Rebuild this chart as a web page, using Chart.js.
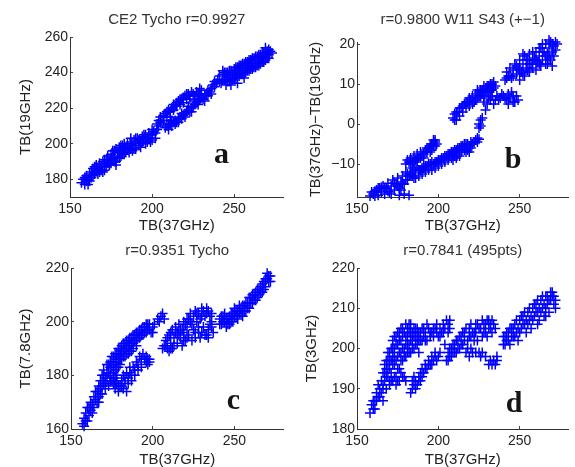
<!DOCTYPE html>
<html>
<head>
<meta charset="utf-8">
<script src="https://cdn.jsdelivr.net/npm/chart.js@4.4.1/dist/chart.umd.min.js"></script>
<style>
  html, body { margin: 0; padding: 0; background: #fff; overflow: hidden; }
  body { width: 575px; height: 467px; position: relative; }
  canvas { position: absolute; }
</style>
</head>
<body>
<canvas id="panelA" width="290" height="240" style="left:0px;top:0px"></canvas>
<canvas id="panelB" width="287" height="240" style="left:288px;top:0px"></canvas>
<canvas id="panelC" width="290" height="240" style="left:0px;top:232px"></canvas>
<canvas id="panelD" width="287" height="240" style="left:288px;top:232px"></canvas>
<script>
// TB(37GHz) vs TB(19GHz)
const tbA = [
  [157,178],[158,180],[159,177],[160,179],[160,182],[161,180],[162,183],[163,181],[163,184],[164,186],
  [165,183],[166,185],[166,188],[167,186],[168,184],[168,189],[169,187],[170,190],[170,184],[171,188],
  [172,191],[172,187],[173,193],[174,190],[174,188],[175,194],[175,189],[176,191],[176,196],[177,193],
  [178,190],[178,197],[178,188],[179,195],[180,192],[180,198],[181,196],[182,194],[182,199],[183,197],
  [183,200],[184,195],[185,200],[186,198],[186,195],[187,201],[188,199],[188,196],[189,197],[189,202],
  [190,200],[191,203],[192,199],[193,201],[194,204],[195,202],[196,200],[196,205],[197,203],[198,206],
  [199,203],[200,205],[201,207],[199,201],[202,203],
  [159,181],[161,177],[162,179],[164,182],[165,187],[167,183],[169,185],[171,185],[171,191],[173,189],
  [175,192],[177,190],[177,196],[179,192],[181,193],[181,199],[183,194],[184,198],[185,197],[187,197],
  [187,203],[190,197],[190,203],[192,202],[193,198],[194,201],[195,205],[197,201],[198,203],[200,202],
  [200,208],[202,206],[203,208],[204,210],
  [203,211],[204,213],[205,215],[206,213],[207,216],[208,217],[209,215],[210,219],[211,218],[212,220],
  [213,222],[214,221],[215,223],[216,224],[217,222],[218,225],[219,226],[220,227],[221,225],[222,228],
  [223,227],[224,229],[225,228],[226,227],[205,212],[207,213],[209,218],[211,215],[213,219],[215,221],
  [217,225],[219,223],[221,228],[223,225],
  [208,209],[209,210],[210,208],[211,211],[212,210],[213,212],[214,213],[215,212],[216,214],[217,215],
  [218,214],[219,216],[220,217],[221,218],[222,219],[223,218],[224,220],[225,221],[226,222],[227,223],
  [228,224],[229,225],[230,226],[231,225],[232,227],[233,228],[234,230],[235,229],[236,231],[237,233],
  [238,232],[227,229],[228,228],[229,231],[230,230],[210,211],[212,213],[214,211],[216,212],[218,217],
  [220,215],[222,221],[224,218],[226,224],[228,222],[230,228],[232,224],[234,227],[236,228],[238,235],
  [239,234],
  [240,236],[241,238],[242,234],[243,239],[244,236],[244,240],[245,237],[245,233],[246,235],[246,240],
  [247,238],[248,236],[248,233],[248,241],[249,239],[250,237],[250,242],[251,240],[252,238],[252,234],
  [252,243],[253,241],[254,239],[254,244],[255,242],[256,240],[256,237],[256,245],[257,243],[258,241],
  [258,246],[259,244],[260,242],[260,247],[261,245],[262,243],[262,248],[263,246],[264,244],[264,249],
  [265,247],[266,245],[266,250],[267,248],[268,246],[268,251],[269,249],[270,252],[270,248],[271,250],
  [272,252],[269,254],[241,235],[243,236],[245,240],[247,235],[249,236],[251,237],[253,238],[255,239],
  [257,240],[259,241],[261,242],[263,243],[265,244],[267,246],[269,247],[271,248],[253,244],[257,246],
  [261,248],[265,250],[243,241],[247,241],[251,243],[255,245],[259,247],[263,249],[267,251],[271,253],
  [273,251]
];

// TB(37GHz) vs TB(37GHz)-TB(19GHz)
const tbB = [
  [158,-18],[160,-17.5],[161,-18],[162,-16.5],[163,-17.8],[164,-16],[165,-17],[166,-15.5],[167,-17.5],[168,-16],
  [169,-14.8],[170,-17],[171,-15.5],[172,-14],[173,-16.5],[174,-15],[175,-13.5],[176,-16],[176,-17.8],[177,-14.5],
  [178,-13],[179,-15],[180,-12],[181,-14],[182,-17.8],[183,-12.5],[184,-11],[185,-13.5],[186,-12],[187,-10.5],
  [188,-13],[189,-11.5],[190,-12.5],[191,-11],[192,-12],[193,-10.5],[194,-11.5],[195,-10],[196,-11.5],[197,-10],
  [198,-11],[199,-9.5],[200,-10.5],[201,-9],[202,-10],[203,-8.5],[204,-9.5],[205,-8],[206,-9],[207,-7.5],
  [208,-8.5],[209,-7],[210,-8],[211,-6.5],[212,-7.5],[213,-6],[214,-7],[215,-5.5],[216,-6.5],[217,-5],
  [218,-6.5],[219,-5.5],[220,-6],[221,-5],[222,-4.5],[223,-4],[224,-4.5],[225,-3.8],
  [159,-17],[161,-16.8],[163,-16],[165,-15.8],[167,-16.2],[169,-16.8],[171,-17.5],[173,-14.8],[175,-15.5],[177,-16.5],
  [178,-15],[179,-17.5],[180,-14],[181,-12.5],[182,-13],[184,-13],[185,-11.5],[186,-13.5],[188,-11.5],[190,-11],
  [192,-10.5],[194,-10],[196,-9.5],[198,-9.5],[200,-9],[202,-8.5],[204,-8],[206,-7.5],[208,-7],[210,-6.5],
  [212,-6],[214,-5.5],[216,-5],[218,-5],[220,-4.5],[219,-7],[217,-7],[213,-8],[211,-8.5],[209,-9],
  [224,-3.5],
  [180,-10],[182,-9.5],[183,-8.5],[184,-9.5],[185,-8],[186,-9],[187,-7.5],[188,-8.5],[189,-7],[190,-8],
  [191,-7.5],[192,-6.5],[193,-7],[194,-6],[195,-5.5],[196,-6.5],[197,-5],[198,-5.5],[198,-4.5],[197,-4],
  [181,-9],[183,-10],[185,-9.5],[187,-9],[189,-8.5],[191,-8.5],[193,-6],[195,-7],[196,-5],[198,-4],
  [197,-5.5],[199,-5],
  [225,0],[226,1],[226,-0.5],[227,1.5],[225,-1],
  [209,1.5],[210,2.5],[211,1],[212,3],[213,2],[214,4],[215,3],[216,5],[217,4],[218,5.5],
  [219,4.5],[220,6],[221,7],[222,5.5],[223,7.5],[224,6.5],[225,8],[226,7],[227,8.5],[228,7],
  [229,9],[230,8],[231,9.5],[232,8.5],[233,10],[234,9],[235,9.5],[229,3.5],[230,5],[228,5.5],
  [232,6],[234,5],[236,7],[238,6.5],[240,7],[242,6],[244,6.5],[245,8],[246,7],[247,5.5],
  [249,6],[243,5],[237,6],[210,1],[211,3],[213,4],[215,4.5],[217,5.5],[219,6.5],[221,5],
  [223,6],[225,7],[227,7.5],[229,8],[231,8],[233,8.5],[234,10.5],[232,10],[230,9.5],[228,9.5],
  [226,8.5],[224,8.5],[231,6.5],[233,7],[235,6],[239,7.5],[241,6.5],[243,7.5],[246,5.5],[248,7],
  [241,11],[242,13],[243,12],[244,14],[245,11.5],[246,13.5],[247,15],[248,12.5],[249,14],[250,11],
  [250,16],[251,13],[252,15],[253,17],[253,12],[254,14],[255,16],[256,13],[256,17.5],[257,15],
  [258,14],[259,16.5],[260,18],[260,13.5],[261,15.5],[262,17],[263,19],[263,14.5],[264,16],[265,18],
  [266,20],[266,15],[267,17.5],[268,19],[269,20.5],[269,16],[270,18],[271,19.5],[272,20.5],[270,14.5],
  [273,20],[242,11.5],[244,12],[246,12],[248,14.5],[250,13.5],[252,12.5],[254,16],[256,15],[258,16],
  [258,18],[260,16],[262,15],[262,19],[264,18],[264,20],[266,17],[268,16.5],[268,21],[270,20],
  [272,18.5],[267,15],[271,17],[255,13.5],[252,17.5]
];

// TB(37GHz) vs TB(7.8GHz)
const tbC = [
  [157,162],[158,164],[158,161],[159,166],[160,163],[160,168],[161,165],[162,167],[162,170],[163,169],
  [164,172],[164,168],[165,171],[166,174],[166,170],[167,176],[167,172],[168,175],[168,178],[169,173],
  [169,180],[170,177],[170,182],[171,175],[171,179],[172,184],[172,178],[173,181],[173,176],[174,185],
  [174,180],[175,183],[175,178],[176,187],[176,181],[177,185],[177,179],[178,188],[178,183],[179,186],
  [179,190],[180,184],[180,188],[181,191],[181,186],[182,189],[183,192],[183,187],[184,190],[185,193],
  [185,188],[186,191],[187,194],[187,189],[188,192],[189,195],[190,193],[191,196],[192,194],[193,197],
  [194,195],[195,198],[196,196],[197,199],[198,197],[199,196],[200,198],
  [159,163],[161,168],[163,166],[165,174],[167,170],[168,173],[169,176],[170,180],[171,177],[172,181],
  [173,184],[174,178],[174,183],[175,187],[176,184],[176,179],[177,188],[177,182],[178,186],[178,180],
  [179,188],[179,183],[180,190],[180,186],[181,189],[182,192],[182,187],[183,190],[184,193],[184,188],
  [185,191],[186,194],[186,189],[187,192],[188,195],[188,190],[189,193],[190,196],[190,191],[191,194],
  [192,197],[193,195],[194,198],[195,196],[196,199],[197,197],[198,199],[200,196],[201,199],[203,201],
  [176,177],[177,175],[178,177],[179,174],[180,176],[181,178],[182,175],[183,177],[184,174],[185,179],
  [186,181],[187,180],[188,183],[189,182],[190,185],[191,184],[192,187],[193,186],[194,188],[196,185],
  [197,184],[197,186],[198,185],[177,177],[179,176],[181,176],[183,179],[185,177],[187,178],[189,180],
  [191,182],[193,183],[195,186],[196,187],[198,186],[184,181],[182,180],[186,183],
  [204,200],[205,202],[206,203],[207,201],
  [207,191],[208,193],[209,190],[210,189],[210,195],[211,192],[212,197],[212,190],[213,194],[214,198],
  [215,192],[215,196],[216,199],[217,194],[218,191],[218,197],[219,200],[220,193],[221,198],[222,201],
  [222,195],[223,203],[224,199],[224,193],[225,202],[226,204],[226,196],[227,200],[228,203],[229,194],
  [229,201],[230,205],[231,198],[232,202],[233,195],[234,204],[234,197],[235,199],[236,198],[237,196],
  [234,194],[206,190],[208,191],[209,194],[211,196],[211,190],[213,191],[214,196],[216,195],[217,197],
  [219,196],[220,199],[221,201],[223,200],[225,197],[227,203],[228,198],[230,202],[231,204],[233,203],
  [235,202],[236,200],[232,195],[230,196],[228,196],[226,194],[236,203],[233,205],[221,194],[219,193],
  [241,201],[242,199],[243,202],[244,200],[245,198],[246,201],[247,199],[248,203],[249,200],[250,202],
  [251,204],[252,201],[253,203],[254,205],[255,202],[256,206],[257,204],[258,207],[259,205],[260,209],
  [261,207],[262,210],[263,208],[264,212],[265,210],[266,213],[267,211],[268,215],[269,213],[270,216],
  [271,217],[270,218],[272,215],[241,199],[242,202],[243,200],[244,203],[245,201],[246,199],[247,202],
  [248,200],[249,203],[250,205],[251,202],[252,204],[253,206],[254,203],[255,206],[256,204],[257,207],
  [258,205],[259,209],[260,207],[261,210],[262,208],[263,211],[264,209],[265,212],[266,211],[267,214],
  [268,212],[269,216],[271,215],[272,217]
];

// TB(37GHz) vs TB(3GHz)
const tbD = [
  [158,184],[159,186],[160,185],[161,187],[162,189],[163,188],[163,191],[164,190],[165,192],[165,189],
  [166,194],[166,191],[167,196],[167,192],[168,193],[168,197],[169,195],[169,199],[170,192],[170,197],
  [171,200],[171,194],[172,198],[172,202],[173,196],[173,200],[174,193],[174,203],[175,198],[175,201],
  [176,195],[176,204],[177,199],[177,202],[178,197],[178,205],[179,200],[179,193],[180,203],[180,198],
  [181,205],[181,201],[182,199],[182,204],[183,206],[183,202],[184,200],[184,204],[185,203],[186,201],
  [186,205],[187,203],[188,199],[188,204],[189,202],[190,205],[191,203],[192,204],[193,202],[194,205],
  [195,203],[196,204],[197,203],[198,205],[199,204],[200,203],[201,205],[202,204],[203,206],[204,205],
  [205,207],[206,206],[207,207],[204,201],
  [164,188],[166,190],[167,194],[168,195],[169,193],[169,197],[170,199],[170,195],[171,197],[172,196],
  [172,200],[173,198],[173,203],[174,197],[174,201],[175,195],[175,204],[176,199],[176,202],[177,197],
  [177,205],[178,200],[178,203],[179,198],[179,204],[180,201],[180,206],[181,199],[181,203],[182,201],
  [182,206],[183,199],[183,204],[184,202],[185,205],[185,200],[186,203],[187,201],[187,205],[188,202],
  [189,204],[190,202],[191,205],[192,202],[193,206],[195,204],[197,205],[199,206],[201,203],[203,204],
  [206,204],[207,205],[171,192],[173,193],[175,192],[177,194],[166,187],[162,187],[160,187],[161,185],
  [168,190],[170,191],[172,192],[174,191],[176,192],[178,193],[180,192],
  [183,189],[184,190],[185,191],[186,192],[187,191],[188,193],[189,194],[190,195],[191,194],[192,196],
  [193,195],[194,197],[195,196],[196,198],[197,197],[198,198],[199,197],[184,192],[186,190],[188,192],
  [190,193],[192,195],[194,196],[196,196],[198,199],[200,198],[201,199],[185,193],[189,192],
  [205,197],[206,199],[207,198],[208,200],[209,199],[210,201],[211,199],[212,202],[213,200],[214,203],
  [215,201],[216,204],[217,199],[218,202],[219,205],[220,203],[221,199],[222,204],[223,206],[224,202],
  [225,205],[226,198],[227,207],[228,204],[229,206],[230,203],[231,207],[232,205],[233,204],[234,206],
  [233,196],[234,197],[235,196],[236,198],[225,199],[229,198],[206,197],[207,200],[208,198],[209,201],
  [210,199],[211,202],[212,200],[213,203],[214,201],[215,204],[216,202],[217,205],[218,200],[219,203],
  [220,206],[221,204],[222,202],[223,204],[224,206],[226,205],[227,203],[228,206],[229,204],[230,207],
  [231,205],[232,206],[233,207],[235,205],[236,197],[232,197],[227,199],[223,199],[220,200],[219,198],
  [231,196],
  [240,201],[241,203],[242,202],[243,204],[244,201],[245,205],[246,203],[247,206],[248,204],[249,202],
  [250,207],[251,205],[252,208],[253,206],[254,204],[255,209],[256,207],[257,205],[258,210],[259,208],
  [260,211],[261,209],[262,207],[263,212],[264,210],[265,208],[266,213],[267,211],[268,209],[269,212],
  [270,214],[271,211],[272,210],[270,213],[240,203],[241,201],[242,204],[243,202],[244,205],[245,203],
  [246,205],[247,203],[248,207],[249,205],[250,204],[251,208],[252,206],[253,209],[254,207],[255,206],
  [256,210],[257,208],[258,207],[259,211],[260,209],[261,212],[262,210],[263,209],[264,213],[265,211],
  [266,210],[267,213],[268,212],[269,214],[271,213],[272,212],[266,208],[261,206]
];

const xTicks = [150, 200, 250];
const yTicksA = [180, 200, 220, 240, 260];
const yTicksB = [-10, 0, 10, 20];
const yTicksC = [160, 180, 200, 220];
const yTicksD = [180, 190, 200, 210, 220];

const SANS = "'Liberation Sans', Arial, sans-serif";

// bold panel letter inside the plot area
const panelLetter = {
  id: "panelLetter",
  afterDraw(chart, args, opts) {
    const { ctx, chartArea } = chart;
    ctx.save();
    ctx.font = "bold 30px 'Liberation Serif', serif";
    ctx.fillStyle = "#151515";
    ctx.textAlign = "center";
    ctx.textBaseline = "alphabetic";
    ctx.fillText(opts.text, chartArea.left + opts.dx, chartArea.top + opts.dy);
    ctx.restore();
  },
};

function drawPanel(id, points, cfg) {
  const ctx = document.getElementById(id).getContext("2d");
  const axisLine = { display: true, color: "#333", width: 1 };
  const tickMarks = { display: true, drawOnChartArea: false, drawTicks: true, tickLength: -3, color: "#444" };
  return new Chart(ctx, {
    type: "scatter",
    data: {
      datasets: [
        {
          data: points.map((p) => ({ x: p[0], y: p[1] })),
          pointStyle: "cross",
          pointRadius: 5,
          borderWidth: 1.5,
          borderColor: "#0000ff",
          backgroundColor: "#0000ff",
          clip: false,
        },
      ],
    },
    options: {
      responsive: false,
      animation: false,
      devicePixelRatio: 1,
      layout: { padding: { left: 0, right: 3, top: 0, bottom: cfg.padBottom } },
      plugins: {
        legend: { display: false },
        tooltip: { enabled: false },
        title: {
          display: true,
          text: cfg.title,
          fullSize: false,
          color: "#333",
          font: { family: SANS, size: 15, weight: "normal" },
          padding: { top: cfg.titleTop, bottom: cfg.titleBottom },
        },
        panelLetter: { text: cfg.letter, dx: cfg.letterDx, dy: cfg.letterDy },
      },
      scales: {
        x: {
          type: "linear",
          min: 150,
          max: 280,
          afterBuildTicks: (s) => { s.ticks = xTicks.map((v) => ({ value: v })); },
          afterFit: (s) => { s.height = cfg.xHeight; },
          border: axisLine,
          grid: tickMarks,
          ticks: { color: "#222", font: { family: SANS, size: 14 }, padding: 7, maxRotation: 0 },
          title: {
            display: true,
            text: "TB(37GHz)",
            color: "#222",
            font: { family: SANS, size: 15 },
            padding: { top: 0, bottom: cfg.xTitlePad },
          },
        },
        y: {
          type: "linear",
          min: cfg.yMin,
          max: cfg.yMax,
          afterBuildTicks: (s) => { s.ticks = cfg.yTicks.map((v) => ({ value: v })); },
          afterFit: (s) => { s.width = cfg.yWidth; },
          border: axisLine,
          grid: tickMarks,
          ticks: {
            color: "#222",
            font: { family: SANS, size: 14 },
            padding: 5,
            callback: (v) => (v < 0 ? "\u2212" + Math.abs(v) : String(v)),
          },
          title: {
            display: true,
            text: cfg.yLabel,
            color: "#222",
            font: { family: SANS, size: cfg.yLabelSize || 15 },
            padding: { top: cfg.yTitlePad, bottom: 0 },
          },
        },
      },
    },
    plugins: [panelLetter],
  });
}

drawPanel("panelA", tbA, {
  title: "CE2 Tycho r=0.9927", titleTop: 11, titleBottom: 8,
  yLabel: "TB(19GHz)", yTitlePad: 16.5, yWidth: 70,
  yMin: 170, yMax: 260, yTicks: yTicksA,
  xHeight: 40, padBottom: 3, xTitlePad: 2,
  letter: "a", letterDx: 151.5, letterDy: 126,
});

drawPanel("panelB", tbB, {
  title: "r=0.9800 W11 S43 (+\u22121)", titleTop: 11, titleBottom: 13,
  yLabel: "TB(37GHz)\u2212TB(19GHz)", yLabelSize: 14.5, yTitlePad: 19, yWidth: 69,
  yMin: -18.25, yMax: 20.5, yTicks: yTicksB,
  xHeight: 40, padBottom: 3, xTitlePad: 2,
  letter: "b", letterDx: 156, letterDy: 126,
});

drawPanel("panelC", tbC, {
  title: "r=0.9351 Tycho", titleTop: 10, titleBottom: 8,
  yLabel: "TB(7.8GHz)", yTitlePad: 16.5, yWidth: 71,
  yMin: 160, yMax: 220, yTicks: yTicksC,
  xHeight: 41, padBottom: 2, xTitlePad: 1,
  letter: "c", letterDx: 162.5, letterDy: 141,
});

drawPanel("panelD", tbD, {
  title: "r=0.7841 (495pts)", titleTop: 10, titleBottom: 8,
  yLabel: "TB(3GHz)", yTitlePad: 15, yWidth: 69,
  yMin: 180, yMax: 220, yTicks: yTicksD,
  xHeight: 41, padBottom: 2, xTitlePad: 1,
  letter: "d", letterDx: 157, letterDy: 144,
});
</script>
</body>
</html>
